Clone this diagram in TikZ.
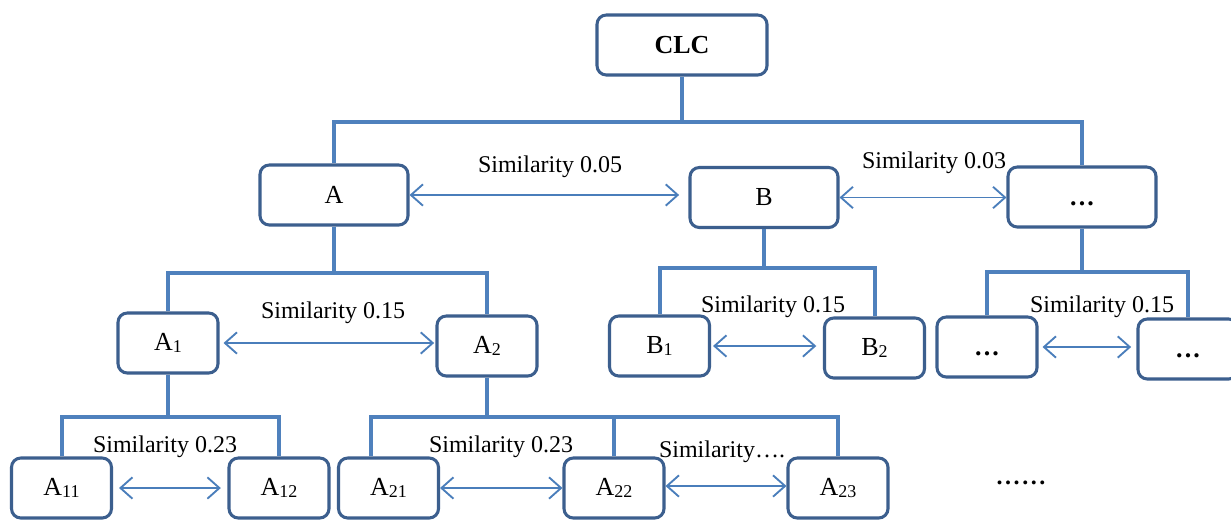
\documentclass[tikz,border=0pt]{standalone}
\usepackage{fontspec}
\setmainfont{Liberation Serif}
\usetikzlibrary{arrows.meta,calc}
\definecolor{boxc}{HTML}{3C5F8E}
\definecolor{linec}{HTML}{4F81BD}
\definecolor{arrc}{HTML}{4A7EBB}
\newcommand\sbx[1]{\raisebox{-0.08em}{\fontsize{13.5pt}{13.5pt}\selectfont #1}}
\newcommand\bdots{\vphantom{A}\textbf{.\kern1.6pt.\kern1.6pt.}}
\begin{document}
\begin{tikzpicture}[x=0.75pt,y=-0.75pt,
  bx/.style={draw=boxc,line width=2.3pt,rounded corners=7pt,fill=white,inner sep=0pt,
    minimum height=45pt,font=\fontsize{19.5pt}{21pt}\selectfont},
  wide/.style={bx,minimum width=111pt},
  narrow/.style={bx,minimum width=75pt},
  tree/.style={draw=linec,line width=3pt},
  sim/.style={draw=arrc,line width=1.4pt,<->,>={Straight Barb[length=9pt,width=16pt]}},
  lbl/.style={font=\fontsize{18pt}{20pt}\selectfont,inner sep=0pt}]
\useasboundingbox (0,0) rectangle (1231,519);
\clip (0,0) rectangle (1231,519);
\fill[white] (0,0) rectangle (1231,519);
% boxes
\node[bx,minimum width=127.5pt,font=\bfseries\fontsize{19.5pt}{21pt}\selectfont] (CLC) at (682,45) {CLC};
\node[wide] (A) at (334,195) {A};
\node[wide] (B) at (764,197.5) {B};
\node[wide] (D) at (1082,197) {\bdots};
\node[narrow] (A1) at (168,343) {A\sbx{1}};
\node[narrow] (A2) at (487,346) {A\sbx{2}};
\node[narrow] (B1) at (659.5,346) {B\sbx{1}};
\node[narrow] (B2) at (874.5,348) {B\sbx{2}};
\node[narrow] (D1) at (987,347) {\bdots};
\node[narrow] (D2) at (1188,349) {\bdots};
\node[narrow] (A11) at (61.5,488) {A\sbx{11}};
\node[narrow] (A12) at (279,488) {A\sbx{12}};
\node[narrow] (A21) at (388.5,488) {A\sbx{21}};
\node[narrow] (A22) at (614,488) {A\sbx{22}};
\node[narrow] (A23) at (838,488) {A\sbx{23}};
% tree connectors
\coordinate (t0) at (682,122);
\draw[tree] (CLC.south) -- (t0);
\draw[tree] (A.north) |- (t0) -| (D.north);
\coordinate (tA) at (334,273);
\draw[tree] (A.south) -- (tA);
\draw[tree] (A1.north) |- (tA) -| (A2.north);
\coordinate (tB) at (764,268);
\draw[tree] (B.south) -- (tB);
\draw[tree] (B1.north) |- (tB) -| (B2.north);
\coordinate (tD) at (1082,272);
\draw[tree] (D.south) -- (tD);
\draw[tree] (D1.north) |- (tD) -| (D2.north);
\coordinate (tA1) at (168,417);
\draw[tree] (A1.south) -- (tA1);
\draw[tree] (A11.north) |- (tA1) -| (A12.north);
\coordinate (tA2) at (487,417);
\draw[tree] (A2.south) -- (tA2);
\coordinate (a21t) at ($(A21.north)+(-18,0)$);
\draw[tree] (a21t) |- (tA2) -| (A23.north);
\draw[tree] (A22.north) -- (A22.north |- tA2);
% similarity arrows
\draw[sim,shorten >=7pt] (A.east) -- (A.east -| B.west);
\draw[sim] (B.east) -- (B.east -| D.west);
\draw[sim,shorten <=3pt,shorten >=1pt] (A1.east) -- (A1.east -| A2.west);
\draw[sim,shorten <=1.5pt,shorten >=5pt] (B1.east) -- (B1.east -| B2.west);
\draw[sim,shorten <=3pt,shorten >=4pt] (D1.east) -- (D1.east -| D2.west);
\draw[sim,shorten <=4.5pt,shorten >=5pt] (A11.east) -- (A11.east -| A12.west);
\draw[sim] (A21.east) -- (A21.east -| A22.west);
\draw[sim] ([yshift=1.5pt]A22.east) -- ([yshift=1.5pt]A22.east -| A23.west);
% labels
\node[lbl] (s1) at (550,167) {Similarity 0.05};
\node[lbl] (s2) at (934,163) {Similarity 0.03};
\node[lbl] (s3) at (333,313) {Similarity 0.15};
\node[lbl] (s4) at (773,307) {Similarity 0.15};
\node[lbl] (s5) at (1102,307) {Similarity 0.15};
\node[lbl] (s6) at (165,447) {Similarity 0.23};
\node[lbl] (s7) at (501,447) {Similarity 0.23};
\node[lbl] (s8) at (722,452) {Similarity….};
\node[lbl] (s9) at (1021,483) {\textbf{.\kern1.9pt.\kern1.9pt.\kern1.9pt.\kern1.9pt.\kern1.9pt.}};
\end{tikzpicture}
\end{document}
